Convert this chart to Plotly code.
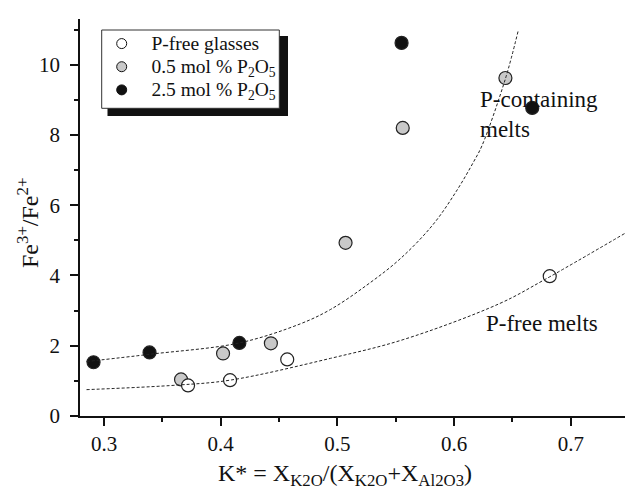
import plotly.graph_objects as go

# Redox ratio vs. K* for the three glass series
pfree_k = [0.372, 0.408, 0.457, 0.682]
pfree_fe = [0.87, 1.02, 1.61, 3.98]

p05_k = [0.366, 0.402, 0.443, 0.507, 0.556, 0.644]
p05_fe = [1.04, 1.78, 2.07, 4.93, 8.20, 9.62]

p25_k = [0.291, 0.339, 0.416, 0.555, 0.667]
p25_fe = [1.53, 1.81, 2.08, 10.62, 8.77]

# Trend curves (sampled along the fitted lines)
pcont_curve_k = [0.285, 0.340, 0.416, 0.468, 0.494, 0.525, 0.554, 0.582, 0.602, 0.617, 0.624, 0.644, 0.655]
pcont_curve_fe = [1.55, 1.76, 2.08, 2.62, 3.03, 3.72, 4.48, 5.45, 6.40, 7.25, 7.70, 9.60, 10.97]

pfree_curve_k = [0.285, 0.363, 0.408, 0.494, 0.557, 0.639, 0.677, 0.7465]
pfree_curve_fe = [0.75, 0.88, 1.02, 1.64, 2.18, 3.20, 3.87, 5.20]

x_ticks = [0.3, 0.4, 0.5, 0.6, 0.7]
y_ticks = [0, 2, 4, 6, 8, 10]

FONT = "Liberation Serif, Times New Roman, serif"
INK = "#111111"
GRAY_FILL = "#c9c9c9"

# Figure and plot-area geometry in pixels (used to place the legend frame)
FIG_W, FIG_H = 625, 492
PLOT_L, PLOT_W, PLOT_T, PLOT_B = 80, 545, 19, 416
PLOT_H = PLOT_B - PLOT_T


def px_x(px):
    return (px - PLOT_L) / PLOT_W


def px_y(py):
    return (PLOT_B - py) / PLOT_H


fig = go.Figure()

# Legend-only entries (smaller symbols in the legend box)
legend_items = [
    ("P-free glasses", "white"),
    ("0.5 mol % P<sub>2</sub>O<sub>5</sub>", GRAY_FILL),
    ("2.5 mol % P<sub>2</sub>O<sub>5</sub>", INK),
]
for name, fill in legend_items:
    fig.add_trace(go.Scatter(
        x=[None], y=[None], mode="markers",
        name=f"<span style='font-size:19.5px'>\u2002{name}</span>",
        marker=dict(size=10, color=fill, line=dict(color=INK, width=1)),
        showlegend=True,
    ))

marker_line = dict(color="#222222", width=1.2)
fig.add_trace(go.Scatter(x=p05_k, y=p05_fe, mode="markers", showlegend=False,
                         marker=dict(size=13, color=GRAY_FILL, line=marker_line)))
fig.add_trace(go.Scatter(x=p25_k, y=p25_fe, mode="markers", showlegend=False,
                         marker=dict(size=13, color=INK, line=marker_line)))
fig.add_trace(go.Scatter(x=pfree_k, y=pfree_fe, mode="markers", showlegend=False,
                         marker=dict(size=13, color="white", line=marker_line)))

dash_line = dict(color="#222222", width=1, dash="3px,2px", shape="spline", smoothing=1.0)
fig.add_trace(go.Scatter(x=pcont_curve_k, y=pcont_curve_fe, mode="lines", showlegend=False,
                         line=dash_line, hoverinfo="skip"))
fig.add_trace(go.Scatter(x=pfree_curve_k, y=pfree_curve_fe, mode="lines", showlegend=False,
                         line=dash_line, hoverinfo="skip"))

axis_common = dict(
    showline=True, linecolor=INK, linewidth=1.5, mirror=False,
    ticks="outside", ticklen=8, tickwidth=1.5, tickcolor=INK,
    showgrid=False, zeroline=False,
    tickfont=dict(family=FONT, size=21, color=INK),
)

fig.update_xaxes(
    range=[0.2794, 0.7465], tickvals=x_ticks, ticktext=[f"{v:.1f}" for v in x_ticks],
    minor=dict(dtick=0.05, tick0=0.3, ticks="outside", ticklen=4, tickwidth=1.5, tickcolor=INK),
    **axis_common,
)
fig.update_yaxes(
    range=[0, 11.3], tickvals=y_ticks, ticktext=[str(v) for v in y_ticks],
    minor=dict(dtick=1, tick0=0, ticks="outside", ticklen=4, tickwidth=1.5, tickcolor=INK),
    ticklabelstandoff=6,
    **axis_common,
)

# Legend frame: dark drop shadow, then the white bordered box on top
fig.add_shape(type="rect", xref="paper", yref="paper",
              x0=px_x(107.5), x1=px_x(288.0), y0=px_y(116.0), y1=px_y(36.0),
              fillcolor=INK, line=dict(width=0), layer="above")
fig.add_shape(type="rect", xref="paper", yref="paper",
              x0=px_x(101.7), x1=px_x(279.3), y0=px_y(108.3), y1=px_y(30.0),
              fillcolor="white", line=dict(color="#333333", width=1), layer="above")

fig.add_annotation(text="P-containing<br>melts", x=0.6205, y=8.57, xref="x", yref="y",
                   xanchor="left", yanchor="middle", align="left", showarrow=False,
                   font=dict(family=FONT, size=23, color=INK))
fig.add_annotation(text="P-free melts", x=0.6256, y=2.64, xref="x", yref="y",
                   xanchor="left", yanchor="middle", align="left", showarrow=False,
                   font=dict(family=FONT, size=23, color=INK))

fig.add_annotation(text="K* = X<sub>K2O</sub>/(X<sub>K2O</sub>+X<sub>Al2O3</sub>)",
                   x=px_x(345), y=px_y(475), xref="paper", yref="paper",
                   xanchor="center", yanchor="middle", showarrow=False,
                   font=dict(family=FONT, size=24, color=INK))
fig.add_annotation(text="Fe<sup>3+</sup>/Fe<sup>2+</sup>",
                   x=px_x(28), y=px_y(223), xref="paper", yref="paper",
                   xanchor="center", yanchor="middle", textangle=-90, showarrow=False,
                   font=dict(family=FONT, size=24, color=INK))

fig.update_layout(
    width=FIG_W, height=FIG_H,
    margin=dict(l=PLOT_L, r=FIG_W - PLOT_L - PLOT_W, t=PLOT_T, b=FIG_H - PLOT_B),
    paper_bgcolor="white", plot_bgcolor="white",
    showlegend=True,
    legend=dict(
        x=px_x(101.7), y=px_y(27), xanchor="left", yanchor="top",
        bgcolor="rgba(0,0,0,0)", borderwidth=0,
        font=dict(family=FONT, size=15.5, color=INK),
        itemsizing="trace", tracegroupgap=0,
    ),
)

fig.write_html("out.html")
